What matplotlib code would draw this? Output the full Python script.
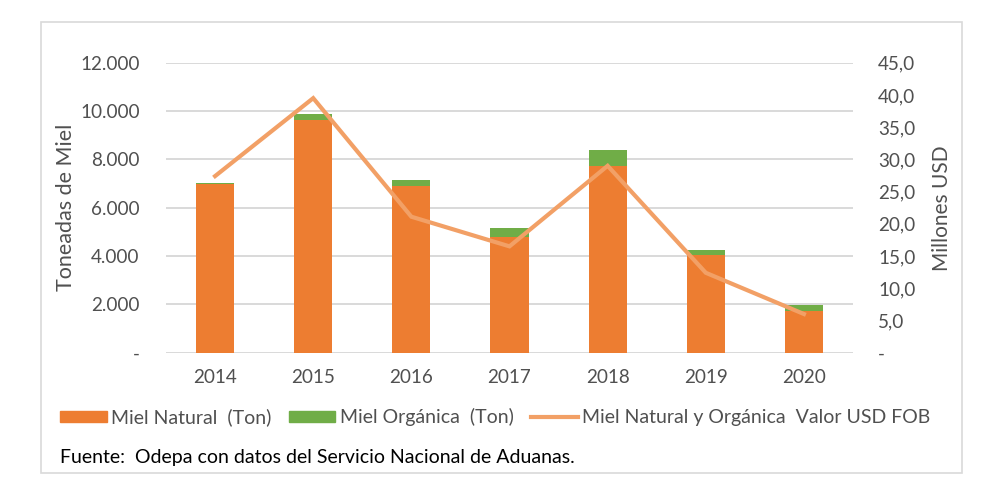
import matplotlib
matplotlib.use('Agg')
import matplotlib.pyplot as plt
from matplotlib.patches import Rectangle, Patch
from matplotlib.lines import Line2D

plt.rcParams['font.family'] = ['Lato', 'DejaVu Sans']

years = ['2014', '2015', '2016', '2017', '2018', '2019', '2020']
natural_ton = [6990, 9610, 6910, 4770, 7720, 4050, 1740]
organica_ton = [40, 260, 220, 410, 680, 190, 220]
valor_usd = [27.4, 39.5, 21.1, 16.5, 29.0, 12.4, 6.0]

left_ticks = [0, 2000, 4000, 6000, 8000, 10000, 12000]
left_labels = ['-', '2.000', '4.000', '6.000', '8.000', '10.000', '12.000']
right_ticks = [0, 5, 10, 15, 20, 25, 30, 35, 40, 45]
right_labels = ['-', '5,0', '10,0', '15,0', '20,0', '25,0', '30,0', '35,0', '40,0', '45,0']

ORANGE = '#ED7D31'
GREEN = '#70AD47'
LINE = '#F2A066'
GRAY = '#505050'
GRID = '#D9D9D9'
FS = 13.6

fig = plt.figure(figsize=(10, 4.91), dpi=100)
fig.patches.append(Rectangle((41 / 1000, 1 - 473 / 491), 921 / 1000, 451 / 491,
                             transform=fig.transFigure, fill=False,
                             edgecolor=GRID, lw=1.2))

ax = fig.add_axes([0.166, 0.2817, 0.687, 0.5906])
x = list(range(len(years)))
ax.bar(x, natural_ton, width=0.39, color=ORANGE, zorder=2)
ax.bar(x, organica_ton, width=0.39, bottom=natural_ton, color=GREEN, zorder=2)
ax.set_xlim(-0.5, len(years) - 0.5)
ax.set_ylim(0, 12000)
ax.set_yticks(left_ticks)
ax.set_yticklabels(left_labels)
ax.set_xticks(x)
ax.set_xticklabels(years)
ax.yaxis.grid(True, color=GRID, lw=1.4, zorder=0)
ax.set_axisbelow(True)
for s in ax.spines.values():
    s.set_visible(False)
ax.tick_params(axis='y', length=0, pad=19, labelsize=FS, labelcolor=GRAY)
ax.tick_params(axis='x', length=0, pad=12, labelsize=FS, labelcolor=GRAY)
ax.set_ylabel('Toneadas de Miel', fontsize=15.5, color=GRAY, labelpad=3)

ax2 = ax.twinx()
ax2.plot(x, valor_usd, color=LINE, lw=3, solid_joinstyle='miter')
ax2.set_ylim(0, 45)
ax2.set_yticks(right_ticks)
ax2.set_yticklabels(right_labels)
for s in ax2.spines.values():
    s.set_visible(False)
ax2.tick_params(axis='y', length=0, pad=18, labelsize=FS, labelcolor=GRAY)
ax2.set_ylabel('Millones USD', fontsize=15, color=GRAY, labelpad=12)

handles = [Patch(color=ORANGE), Patch(color=GREEN), Line2D([], [], color=LINE, lw=3)]
labels = ['Miel Natural  (Ton)', 'Miel Orgánica  (Ton)', 'Miel Natural y Orgánica  Valor USD FOB']
fig.legend(handles, labels, loc='center left', bbox_to_anchor=(0.06, 1 - 417 / 491),
           ncol=3, frameon=False, fontsize=14, labelcolor=GRAY,
           handlelength=2.4, handleheight=0.5, handletextpad=0.22,
           columnspacing=0.9, borderpad=0, borderaxespad=0)

fig.text(0.06, 1 - 458 / 491, 'Fuente:  Odepa con datos del Servicio Nacional de Aduanas.',
         fontsize=14, color='black', va='center', ha='left')

fig.savefig('out.png', dpi=100)
